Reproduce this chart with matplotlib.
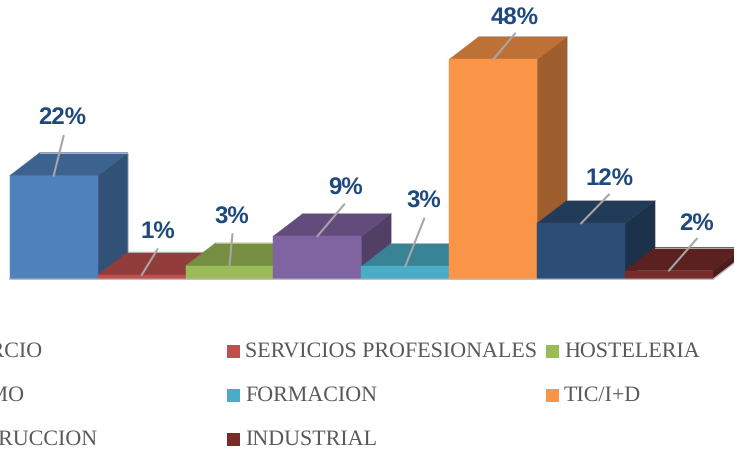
import matplotlib
matplotlib.use("Agg")
import matplotlib.pyplot as plt
from matplotlib.colors import to_rgb
from matplotlib.patches import Polygon, Rectangle

W, H = 734, 455

plt.rcParams["text.hinting"] = "none"
plt.rcParams["text.hinting_factor"] = 1

# --- data ---
categorias = ["COMERCIO", "SERVICIOS PROFESIONALES", "HOSTELERIA", "TURISMO", "FORMACION",
              "TIC/I+D", "CONSTRUCCION", "INDUSTRIAL"]
valores = [22.6, 0.9, 2.9, 9.4, 2.8, 48.0, 12.2, 1.9]
etiquetas = ["22%", "1%", "3%", "9%", "3%", "48%", "12%", "2%"]
colores = ["#4F81BD", "#C0504D", "#9BBB59", "#8064A2", "#4BACC6", "#FA9548", "#2C4D75", "#772C2A"]

# leader line ends and label centres, pixels from the top of each bar
lineas = [(10, 40), (16, 26), (3, 32), (27, 32), (19, 48), (22, 26), (28, 29), (28, 32)]
textos = [(9, 58), (16, 44), (2, 48), (28, 48), (19, 65), (22, 41), (28, 45), (28, 47)]

ANCHO_PX = 87.9    # px per category
ALTO_PX = 4.58     # px per percent
BASE_PX = 279.3    # baseline from top
X0_PX = 9.7
DX = 30 / ANCHO_PX
DY = 23 / ALTO_PX
AZUL = "#1F497D"
GRIS = "#A6A6A6"


def sombra(c, f):
    return tuple(v * f for v in to_rgb(c))


fig = plt.figure(figsize=(W / 100, H / 100), dpi=100, facecolor="white")
ax = fig.add_axes([0, 0, 1, 1])
ax.set_xlim(-0.5 - X0_PX / ANCHO_PX, -0.5 + (W - X0_PX) / ANCHO_PX)
ax.set_ylim(-(H - BASE_PX) / ALTO_PX, BASE_PX / ALTO_PX)
ax.axis("off")

for i, (v, c) in enumerate(zip(valores, colores)):
    l, r = i - 0.5, i + 0.5
    lado, tapa = sombra(c, 0.63), sombra(c, 0.76)
    ax.add_patch(Polygon([(r, 0), (r + DX, DY), (r + DX, v + DY), (r, v)], closed=True,
                         fc=lado, ec=lado, lw=0.4, zorder=2 + i))
    ax.add_patch(Polygon([(l, v), (l + DX, v + DY), (r + DX, v + DY), (r, v)], closed=True,
                         fc=tapa, ec=tapa, lw=0.4, zorder=2 + i))
    ax.plot([l + DX, r + DX, r + DX], [v + DY, v + DY, DY], color="#BFBFBF", lw=0.6,
            zorder=2 + i)
    ax.bar(i, v, width=1, color=c, ec=c, lw=0.3, zorder=2 + i)

# floor edge
ax.plot([-0.5, len(valores) - 0.5, len(valores) - 0.5 + DX], [0, 0, DY], color="#BFBFBF", lw=1,
        zorder=20)

for i, (v, t, (ox, oy), (tx, ty)) in enumerate(zip(valores, etiquetas, lineas, textos)):
    ax.annotate("", xy=(i, v), xytext=(ox, oy), textcoords="offset pixels",
                arrowprops=dict(arrowstyle="-", color=GRIS, lw=1.5, shrinkA=0, shrinkB=0),
                zorder=30)
    ax.annotate(t, xy=(i, v), xytext=(tx, ty), textcoords="offset pixels", ha="center",
                va="center", color=AZUL, fontsize=17, fontweight="bold",
                family="Liberation Sans", zorder=31)

# legend, three columns, first one runs off the left edge
filas_y = [351, 395, 439]
cols_x = [-92, 227, 546]
for n, (nombre, c) in enumerate(zip(categorias, colores)):
    fila, col = n // 3, n % 3
    x, y = cols_x[col], filas_y[fila]
    fig.patches.append(Rectangle((x / W, 1 - (y + 6.5) / H), 13 / W, 13 / H, fc=c, ec="none",
                                 transform=fig.transFigure, figure=fig))
    fig.text((x + 18) / W, 1 - (y + 0.5) / H, nombre, color="#595959", fontsize=15.9,
             family="Liberation Serif", ha="left", va="center")

fig.savefig("out.png", dpi=100, facecolor="white")
